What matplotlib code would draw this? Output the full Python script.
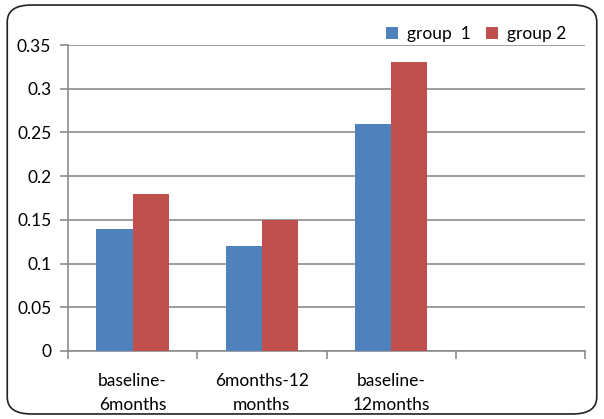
import matplotlib
matplotlib.use("Agg")
import matplotlib.pyplot as plt
import numpy as np
from matplotlib.patches import FancyBboxPatch

categories = ["baseline-\n6months", "6months-12\nmonths", "baseline-\n12months", ""]
group1 = [0.14, 0.12, 0.26]
group2 = [0.18, 0.15, 0.33]
yticks = [0, 0.05, 0.1, 0.15, 0.2, 0.25, 0.3, 0.35]
ytick_labels = ["0", "0.05", "0.1", "0.15", "0.2", "0.25", "0.3", "0.35"]

BLUE = "#4F81BD"
RED = "#C0504D"
GRID = "#8c8c8c"

plt.rcParams["font.family"] = ["Lato", "DejaVu Sans"]

fig = plt.figure(figsize=(6.04, 4.19), dpi=100)

# rounded outer frame, drawn under the axes
frame = FancyBboxPatch((0.012, 0.012), 0.976, 0.976,
                       boxstyle="round,pad=0,rounding_size=0.04",
                       transform=fig.transFigure, facecolor="white",
                       edgecolor="#222222", lw=1.2, zorder=0)
fig.patches.append(frame)

ax = fig.add_axes([0.1126, 0.1623, 0.856, 0.7303])
ax.set_zorder(2)
ax.set_facecolor("none")

n = len(categories)
w = 0.28
x = np.arange(len(group1)) + 0.5
ax.bar(x - w / 2, group1, width=w, color=BLUE, label="group  1", zorder=3)
ax.bar(x + w / 2, group2, width=w, color=RED, label="group 2", zorder=3)

ax.set_xlim(0, n)
ax.set_ylim(0, 0.35)
ax.set_yticks(yticks)
ax.set_yticklabels(ytick_labels, fontsize=12.5)
ax.yaxis.grid(True, color=GRID, lw=1.2, zorder=0)

ax.set_xticks(np.arange(n + 1))
ax.set_xticklabels([])
ax.set_xticks(np.arange(n) + 0.5, minor=True)
ax.set_xticklabels(categories, minor=True, fontsize=12.5, linespacing=1.6)
ax.tick_params(axis="x", which="minor", length=0, pad=16)
ax.tick_params(axis="x", which="major", length=6, color=GRID, width=1.2)
ax.tick_params(axis="y", length=6, color=GRID, width=1.2, pad=6)

for s in ["top", "right"]:
    ax.spines[s].set_visible(False)
for s in ["left", "bottom"]:
    ax.spines[s].set_color(GRID)
    ax.spines[s].set_linewidth(1.2)

leg = fig.legend(loc="center", bbox_to_anchor=(0.788, 0.918), ncol=2, frameon=False,
                 fontsize=12.5, handlelength=0.7, handleheight=0.7,
                 handletextpad=0.5, columnspacing=0.9)
leg.set_zorder(3)

fig.savefig("out.png", dpi=100)
